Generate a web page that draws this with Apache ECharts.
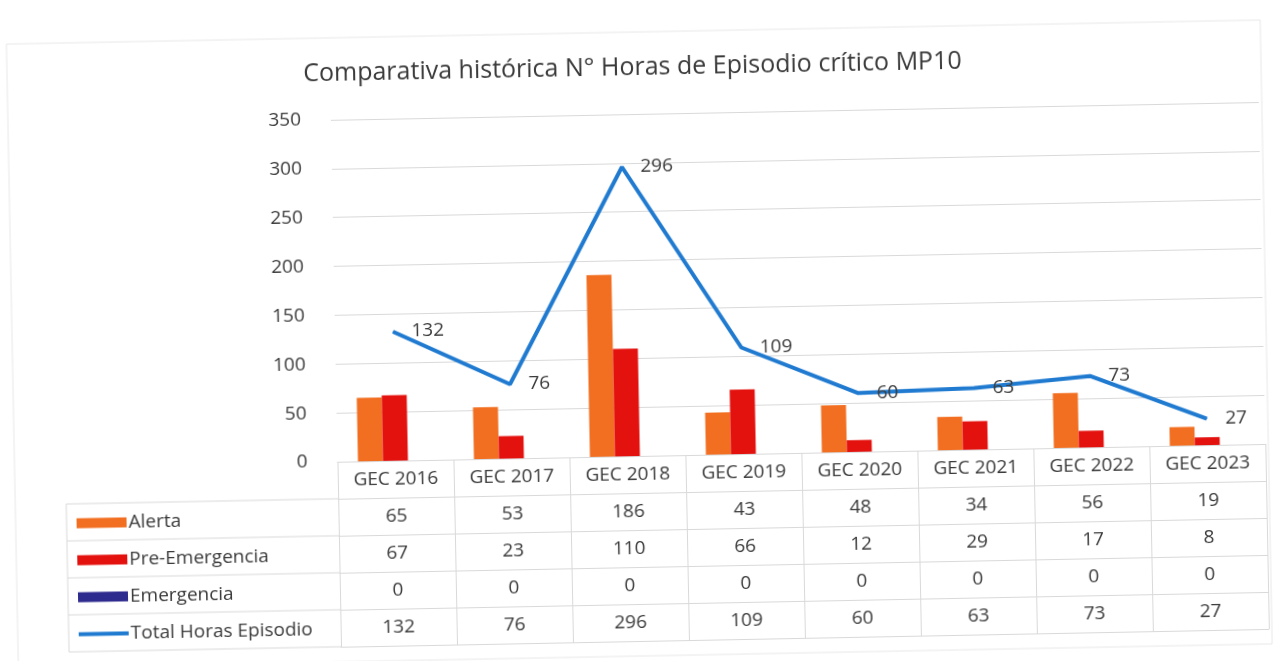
<!DOCTYPE html>
<html>
<head>
<meta charset="utf-8">
<title>Comparativa histórica N° Horas de Episodio crítico MP10</title>
<script src="https://cdn.jsdelivr.net/npm/echarts/dist/echarts.min.js"></script>
<style>
  html, body { margin: 0; padding: 0; background: #fff; overflow: hidden; }
  #chart {
    width: 1275px;
    height: 661px;
    /* the original is a slightly tilted scan */
    transform: rotate(-1.1deg);
    transform-origin: 50% 50%;
  }
</style>
</head>
<body>
<div id="chart"></div>
<script>
  const categories = ['GEC 2016', 'GEC 2017', 'GEC 2018', 'GEC 2019', 'GEC 2020', 'GEC 2021', 'GEC 2022', 'GEC 2023']
  const alerta = [65, 53, 186, 43, 48, 34, 56, 19]
  const preEmergencia = [67, 23, 110, 66, 12, 29, 17, 8]
  const emergencia = [0, 0, 0, 0, 0, 0, 0, 0]
  const totalHoras = [132, 76, 296, 109, 60, 63, 73, 27]
  const yMin = 0
  const yMax = 350
  const yStep = 50

  const FONT = 'Open Sans'
  const TEXT = '#3a3a3a'
  const LINE = '#d9d9d9'
  const ROW = 37
  const GRID_LEFT = 335
  const GRID_TOP = 114
  const GRID_BOTTOM_Y = 456
  const TABLE_LEFT = 63

  const tableRows = [alerta, preEmergencia, emergencia, totalHoras]

  // one category axis per table row, stacked under the plot
  function rowAxis(data, k, showLabel) {
    return {
      type: 'category',
      position: 'bottom',
      offset: k * ROW,
      data: data,
      axisLine: { show: true, lineStyle: { color: LINE, width: 1 } },
      axisTick: { show: showLabel, interval: 0, length: ROW, inside: false, lineStyle: { color: LINE } },
      axisLabel: { show: showLabel, interval: 0, margin: 9, fontSize: 19, fontFamily: FONT, color: TEXT },
      splitLine: { show: false }
    }
  }

  const xAxes = [rowAxis(categories, 0, true)]
  tableRows.forEach((r, i) => xAxes.push(rowAxis(r.map(String), i + 1, true)))
  xAxes.push(rowAxis(categories, tableRows.length + 1, false))

  const graphics = []
  for (let k = 1; k <= tableRows.length + 1; k++) {
    graphics.push({
      type: 'line',
      shape: { x1: TABLE_LEFT, y1: GRID_BOTTOM_Y + k * ROW, x2: GRID_LEFT, y2: GRID_BOTTOM_Y + k * ROW },
      style: { stroke: LINE, lineWidth: 1 }
    })
  }
  graphics.push({
    type: 'line',
    shape: { x1: TABLE_LEFT, y1: GRID_BOTTOM_Y + ROW, x2: TABLE_LEFT, y2: GRID_BOTTOM_Y + (tableRows.length + 1) * ROW },
    style: { stroke: LINE, lineWidth: 1 }
  })
  graphics.push({
    type: 'rect',
    shape: { x: 12, y: 32, width: 1254, height: 624 },
    style: { fill: 'none', stroke: '#e8e8e8', lineWidth: 1 },
    z: -1
  })

  const chart = echarts.init(document.getElementById('chart'), null, { renderer: 'canvas' })
  chart.setOption({
    backgroundColor: '#fff',
    animation: false,
    textStyle: { fontFamily: FONT },
    title: {
      text: 'Comparativa histórica N° Horas de Episodio crítico MP10',
      left: 'center',
      top: 50,
      textStyle: { fontSize: 25, fontWeight: 'normal', fontFamily: FONT, color: TEXT }
    },
    legend: {
      orient: 'vertical',
      left: 66,
      top: GRID_BOTTOM_Y + ROW * 1.5 - 14,
      itemWidth: 50,
      itemHeight: 10,
      itemGap: ROW - 20,
      textStyle: { fontSize: 19, lineHeight: 20, fontFamily: FONT, color: TEXT, padding: [0, 0, 0, -3] },
      data: [
        { name: 'Alerta', icon: 'rect' },
        { name: 'Pre-Emergencia', icon: 'rect' },
        { name: 'Emergencia', icon: 'rect' },
        { name: 'Total Horas Episodio', itemStyle: { opacity: 0 }, lineStyle: { width: 4 } }
      ]
    },
    grid: {
      left: GRID_LEFT,
      right: 12,
      top: GRID_TOP,
      height: GRID_BOTTOM_Y - GRID_TOP,
      outerBoundsMode: 'none',
      containLabel: false
    },
    xAxis: xAxes,
    yAxis: {
      type: 'value',
      min: yMin,
      max: yMax,
      interval: yStep,
      axisLine: { show: false },
      axisTick: { show: false },
      axisLabel: { margin: 30, fontSize: 19, fontFamily: FONT, color: TEXT },
      splitLine: { lineStyle: { color: LINE, width: 1 } }
    },
    graphic: graphics,
    series: [
      {
        name: 'Alerta',
        type: 'bar',
        xAxisIndex: 0,
        barWidth: 25,
        barGap: '0%',
        itemStyle: { color: '#f26f21' },
        data: alerta
      },
      {
        name: 'Pre-Emergencia',
        type: 'bar',
        xAxisIndex: 0,
        barWidth: 25,
        barGap: '0%',
        itemStyle: { color: '#e3120f' },
        data: preEmergencia
      },
      {
        name: 'Emergencia',
        type: 'bar',
        xAxisIndex: 0,
        barWidth: 25,
        barGap: '0%',
        itemStyle: { color: '#2e2b8e' },
        data: emergencia
      },
      {
        name: 'Total Horas Episodio',
        type: 'line',
        xAxisIndex: 0,
        symbol: 'circle',
        symbolSize: 1,
        showSymbol: true,
        itemStyle: { color: '#1f7ad0' },
        lineStyle: { color: '#1f7ad0', width: 4 },
        label: { show: true, position: 'right', distance: 18, fontSize: 19, fontFamily: FONT, color: TEXT },
        data: totalHoras
      }
    ]
  })
</script>
</body>
</html>
